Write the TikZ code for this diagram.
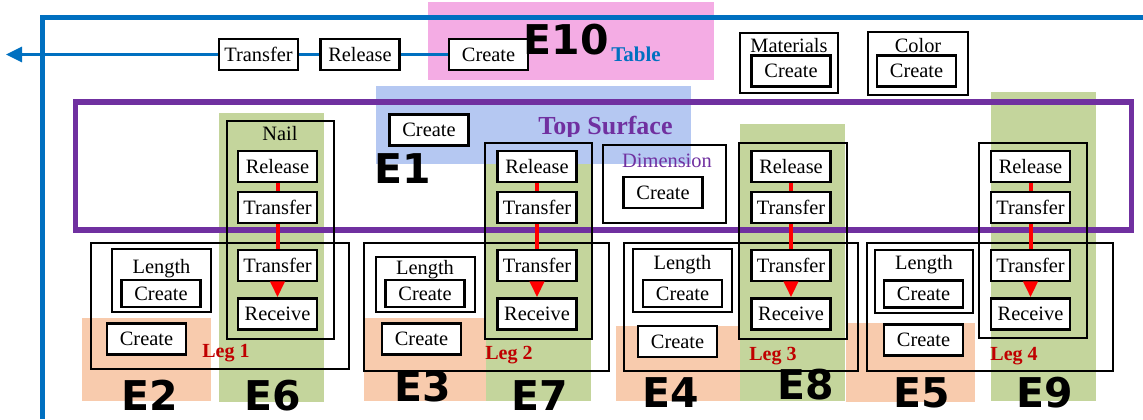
\documentclass[tikz,border=0pt]{standalone}
\usepackage{fontspec}
\setmainfont{Liberation Serif}
\newfontfamily\esans{DejaVu Sans}
\usetikzlibrary{arrows.meta}

\definecolor{pinkE}{RGB}{244,172,228}
\definecolor{orangeE}{RGB}{248,203,173}
\definecolor{greenE}{RGB}{196,213,156}
\definecolor{blueE}{RGB}{181,200,242}
\definecolor{frameblue}{RGB}{0,112,192}
\definecolor{purpleE}{RGB}{112,48,160}
\definecolor{legred}{RGB}{192,0,0}

\begin{document}
\begin{tikzpicture}[x=0.5pt,y=-0.5pt]
% Styles
\tikzset{
    box/.style={draw, line width=1.2pt, fill=white, minimum width=39.5pt,
        minimum height=15.5pt, inner sep=0pt, font=\fontsize{10.2}{12}\selectfont},
    lowbox/.style={box, minimum height=13.5pt},
    grp/.style={draw, line width=1pt},
    txt/.style={inner sep=0pt, font=\fontsize{10.2}{12}\selectfont},
    legtxt/.style={inner sep=0pt, text=legred, font=\fontsize{10}{12}\selectfont\bfseries},
    elbl/.style={inner sep=0pt, font=\esans\fontsize{20.5}{24}\selectfont\bfseries},
    redline/.style={draw=red, line width=2pt},
    redarrow/.style={redline, -{Triangle[length=8pt,width=7pt]}},
    blueline/.style={draw=frameblue, line width=1.5pt}
}
\useasboundingbox (0,0) rectangle (1143,419);

% Backgrounds
\fill[pinkE] (428,2) rectangle (714,80);
\fill[orangeE] (82,318) rectangle (211,401);
\fill[orangeE] (364,318) rectangle (490,401);
\fill[orangeE] (616,326) rectangle (745,401);
\fill[orangeE] (846,323) rectangle (975,402);
\fill[greenE] (219,113) rectangle (324,402);
\fill[greenE] (486,164) rectangle (591,401);
\fill[greenE] (740,124) rectangle (845,401);
\fill[greenE] (991,92) rectangle (1096,401);
\fill[blueE] (376,86) rectangle (691,164);

% Frames
\draw[frameblue, line width=2.5pt] (42.5,419) -- (42.5,17.5) -- (1143,17.5);
\draw[purpleE, line width=2.75pt] (75.5,102) rectangle (1131.5,230);

% Table
\node[box] (TR0) at (258.5,54.5) {Transfer};
\node[box] (REL0) at (360,54.5) {Release};
\node[box] (CR10) at (488.5,54.5) {Create};
\coordinate (TIP) at (6,54.5);
\node[elbl] (E10) at (566,40) {E10};
\node[inner sep=0pt, text=frameblue, font=\fontsize{10.5}{12}\selectfont\bfseries] (TAB) at (636,54) {Table};

\draw[grp] (740,33) rectangle (838,93);
\node[txt] (MAT) at (789,46) {Materials};
\node[box] (CRM) at (791,71) {Create};
\draw[grp] (868,32) rectangle (968,95);
\node[txt] (COL) at (918,46) {Color};
\node[box] (CRC) at (916.5,71) {Create};

% Top surface
\node[box] (CR1) at (429,130) {Create};
\node[elbl] (E1) at (403,169) {E1};
\begin{scope}
\clip (500,100) rectangle (700,136);
\node[anchor=base, inner sep=0pt, text=purpleE, font=\fontsize{13}{15}\selectfont\bfseries] (TOP) at (605.5,134) {Top Surface};
\end{scope}
\draw[grp] (603,145) rectangle (726,223);
\node[txt, text=purpleE] (DIM) at (667,161) {Dimension};
\node[box] (CRD) at (663,192.5) {Create};

% Leg 1
\draw[grp] (91,243) rectangle (349,369);
\draw[grp] (112,249) rectangle (211,312);
\node[txt] (LEN1) at (161.5,269) {Length};
\node[lowbox] (CRL1) at (161,293.5) {Create};
\node[box] (CR2) at (146.5,339) {Create};
\node[legtxt] (LEG1) at (226,353) {Leg 1};
\draw[grp] (227,121) rectangle (334,339);
\node[txt] (NAIL) at (280,134) {Nail};
\node[box] (REL1) at (277.5,166.5) {Release};
\node[box] (TRa1) at (277.5,207.5) {Transfer};
\node[box] (TRb1) at (277.5,265.5) {Transfer};
\node[box] (REC1) at (277.5,314) {Receive};
\node[elbl] (E2) at (150,395) {E2};
\node[elbl] (E6) at (273,396) {E6};

% Leg 2
\draw[grp] (364,243) rectangle (609,371);
\draw[grp] (376,257) rectangle (475,312);
\node[txt] (LEN2) at (425,270) {Length};
\node[lowbox] (CRL2) at (425,293.5) {Create};
\node[box] (CR3) at (421.5,339) {Create};
\node[legtxt] (LEG2) at (509,355) {Leg 2};
\draw[grp] (485,143) rectangle (592,339);
\node[box] (REL2) at (537,166.5) {Release};
\node[box] (TRa2) at (537,207.5) {Transfer};
\node[box] (TRb2) at (537,265.5) {Transfer};
\node[box] (REC2) at (537,314) {Receive};
\node[elbl] (E3) at (423,387) {E3};
\node[elbl] (E7) at (540,396) {E7};

% Leg 3
\draw[grp] (624,243) rectangle (858,371);
\draw[grp] (633,249) rectangle (732,312);
\node[txt] (LEN3) at (682.5,265) {Length};
\node[lowbox] (CRL3) at (682.5,293.5) {Create};
\node[box] (CR4) at (677.5,341.5) {Create};
\node[legtxt] (LEG3) at (773,356) {Leg 3};
\draw[grp] (739,143) rectangle (847,339);
\node[box] (REL3) at (791,166.5) {Release};
\node[box] (TRa3) at (791,207.5) {Transfer};
\node[box] (TRb3) at (791,265.5) {Transfer};
\node[box] (REC3) at (791,314) {Receive};
\node[elbl] (E4) at (671,393) {E4};
\node[elbl] (E8) at (806,385) {E8};

% Leg 4
\draw[grp] (867,243) rectangle (1113,371);
\draw[grp] (875,250) rectangle (973,313);
\node[txt] (LEN4) at (924,265) {Length};
\node[lowbox] (CRL4) at (923.5,294) {Create};
\node[box] (CR5) at (923.5,340) {Create};
\node[legtxt] (LEG4) at (1014,356) {Leg 4};
\draw[grp] (979,143) rectangle (1087,338);
\node[box] (REL4) at (1030.5,166.5) {Release};
\node[box] (TRa4) at (1030.5,207.5) {Transfer};
\node[box] (TRb4) at (1030.5,265.5) {Transfer};
\node[box] (REC4) at (1030.5,314) {Receive};
\node[elbl] (E5) at (922,393) {E5};
\node[elbl] (E9) at (1045,393) {E9};

% Connections
\draw[blueline] (CR10) -- (REL0);
\draw[blueline] (REL0) -- (TR0);
\draw[blueline, -{Triangle[length=8pt,width=7.5pt]}] (TR0) -- (TIP);

\draw[redline] (REL1) -- (TRa1);
\draw[redline] (TRa1) -- (TRb1);
\draw[redarrow] (TRb1) -- (REC1);
\draw[redline] (REL2) -- (TRa2);
\draw[redline] (TRa2) -- (TRb2);
\draw[redarrow] (TRb2) -- (REC2);
\draw[redline] (REL3) -- (TRa3);
\draw[redline] (TRa3) -- (TRb3);
\draw[redarrow] (TRb3) -- (REC3);
\draw[redline] (REL4) -- (TRa4);
\draw[redline] (TRa4) -- (TRb4);
\draw[redarrow] (TRb4) -- (REC4);
\end{tikzpicture}
\end{document}
